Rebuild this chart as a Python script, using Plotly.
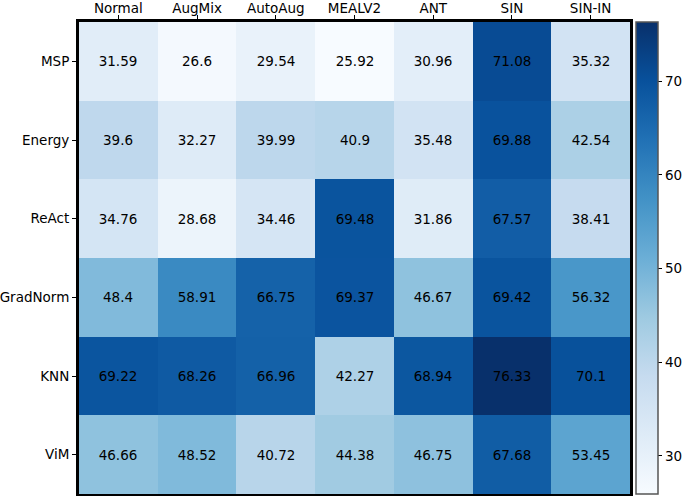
import plotly.graph_objects as go

methods = ["Normal", "AugMix", "AutoAug", "MEALV2", "ANT", "SIN", "SIN-IN"]
detectors = ["MSP", "Energy", "ReAct", "GradNorm", "KNN", "ViM"]

msp = [31.59, 26.6, 29.54, 25.92, 30.96, 71.08, 35.32]
energy = [39.6, 32.27, 39.99, 40.9, 35.48, 69.88, 42.54]
react = [34.76, 28.68, 34.46, 69.48, 31.86, 67.57, 38.41]
gradnorm = [48.4, 58.91, 66.75, 69.37, 46.67, 69.42, 56.32]
knn = [69.22, 68.26, 66.96, 42.27, 68.94, 76.33, 70.1]
vim = [46.66, 48.52, 40.72, 44.38, 46.75, 67.68, 53.45]

z = [msp, energy, react, gradnorm, knn, vim]
text = [[("%g" % v) for v in row] for row in z]

blues = ["rgb(247,251,255)", "rgb(222,235,247)", "rgb(198,219,239)", "rgb(158,202,225)",
         "rgb(107,174,214)", "rgb(66,146,198)", "rgb(33,113,181)", "rgb(8,81,156)", "rgb(8,48,107)"]
cscale = [[i / 8, c] for i, c in enumerate(blues)]

FS = 13.5
FONT = "DejaVu Sans"
W, H = 685, 496
L = 79
T = 22
B = H - 494
paper_w = W - L
plot_right = 630
cb_left = 636

fig = go.Figure(go.Heatmap(
    z=z, x=methods, y=detectors, text=text, texttemplate="%{text}",
    textfont=dict(color="black", size=FS, family=FONT),
    colorscale=cscale, zmin=25.92, zmax=76.33, xgap=0, ygap=0,
    colorbar=dict(thickness=22, len=1, lenmode="fraction",
                  x=(cb_left - L) / paper_w, xanchor="left", xpad=0, ypad=0,
                  y=0.5, yanchor="middle", outlinewidth=1.5, outlinecolor="#555",
                  ticks="outside", ticklen=4, tickwidth=1, tickcolor="black",
                  tickvals=[30, 40, 50, 60, 70],
                  tickfont=dict(size=FS, family=FONT, color="black")),
))

fig.update_layout(
    width=W, height=H,
    margin=dict(l=L, r=0, t=T, b=B, autoexpand=False),
    paper_bgcolor="white", plot_bgcolor="white",
    font=dict(family=FONT, size=FS, color="black"),
    xaxis=dict(side="top", ticks="outside", ticklen=4, tickcolor="black",
               ticklabelstandoff=-3,
               domain=[0, (plot_right - L) / paper_w],
               showline=True, linecolor="black", linewidth=3, mirror=True,
               showgrid=False, zeroline=False, automargin=False),
    yaxis=dict(autorange="reversed", ticks="outside", ticklen=4, tickcolor="black",
               showline=True, linecolor="black", linewidth=3, mirror=True,
               showgrid=False, zeroline=False, automargin=False),
)

fig.write_html("out.html", config={"displayModeBar": False},
               post_script="document.body.style.margin='0';")
